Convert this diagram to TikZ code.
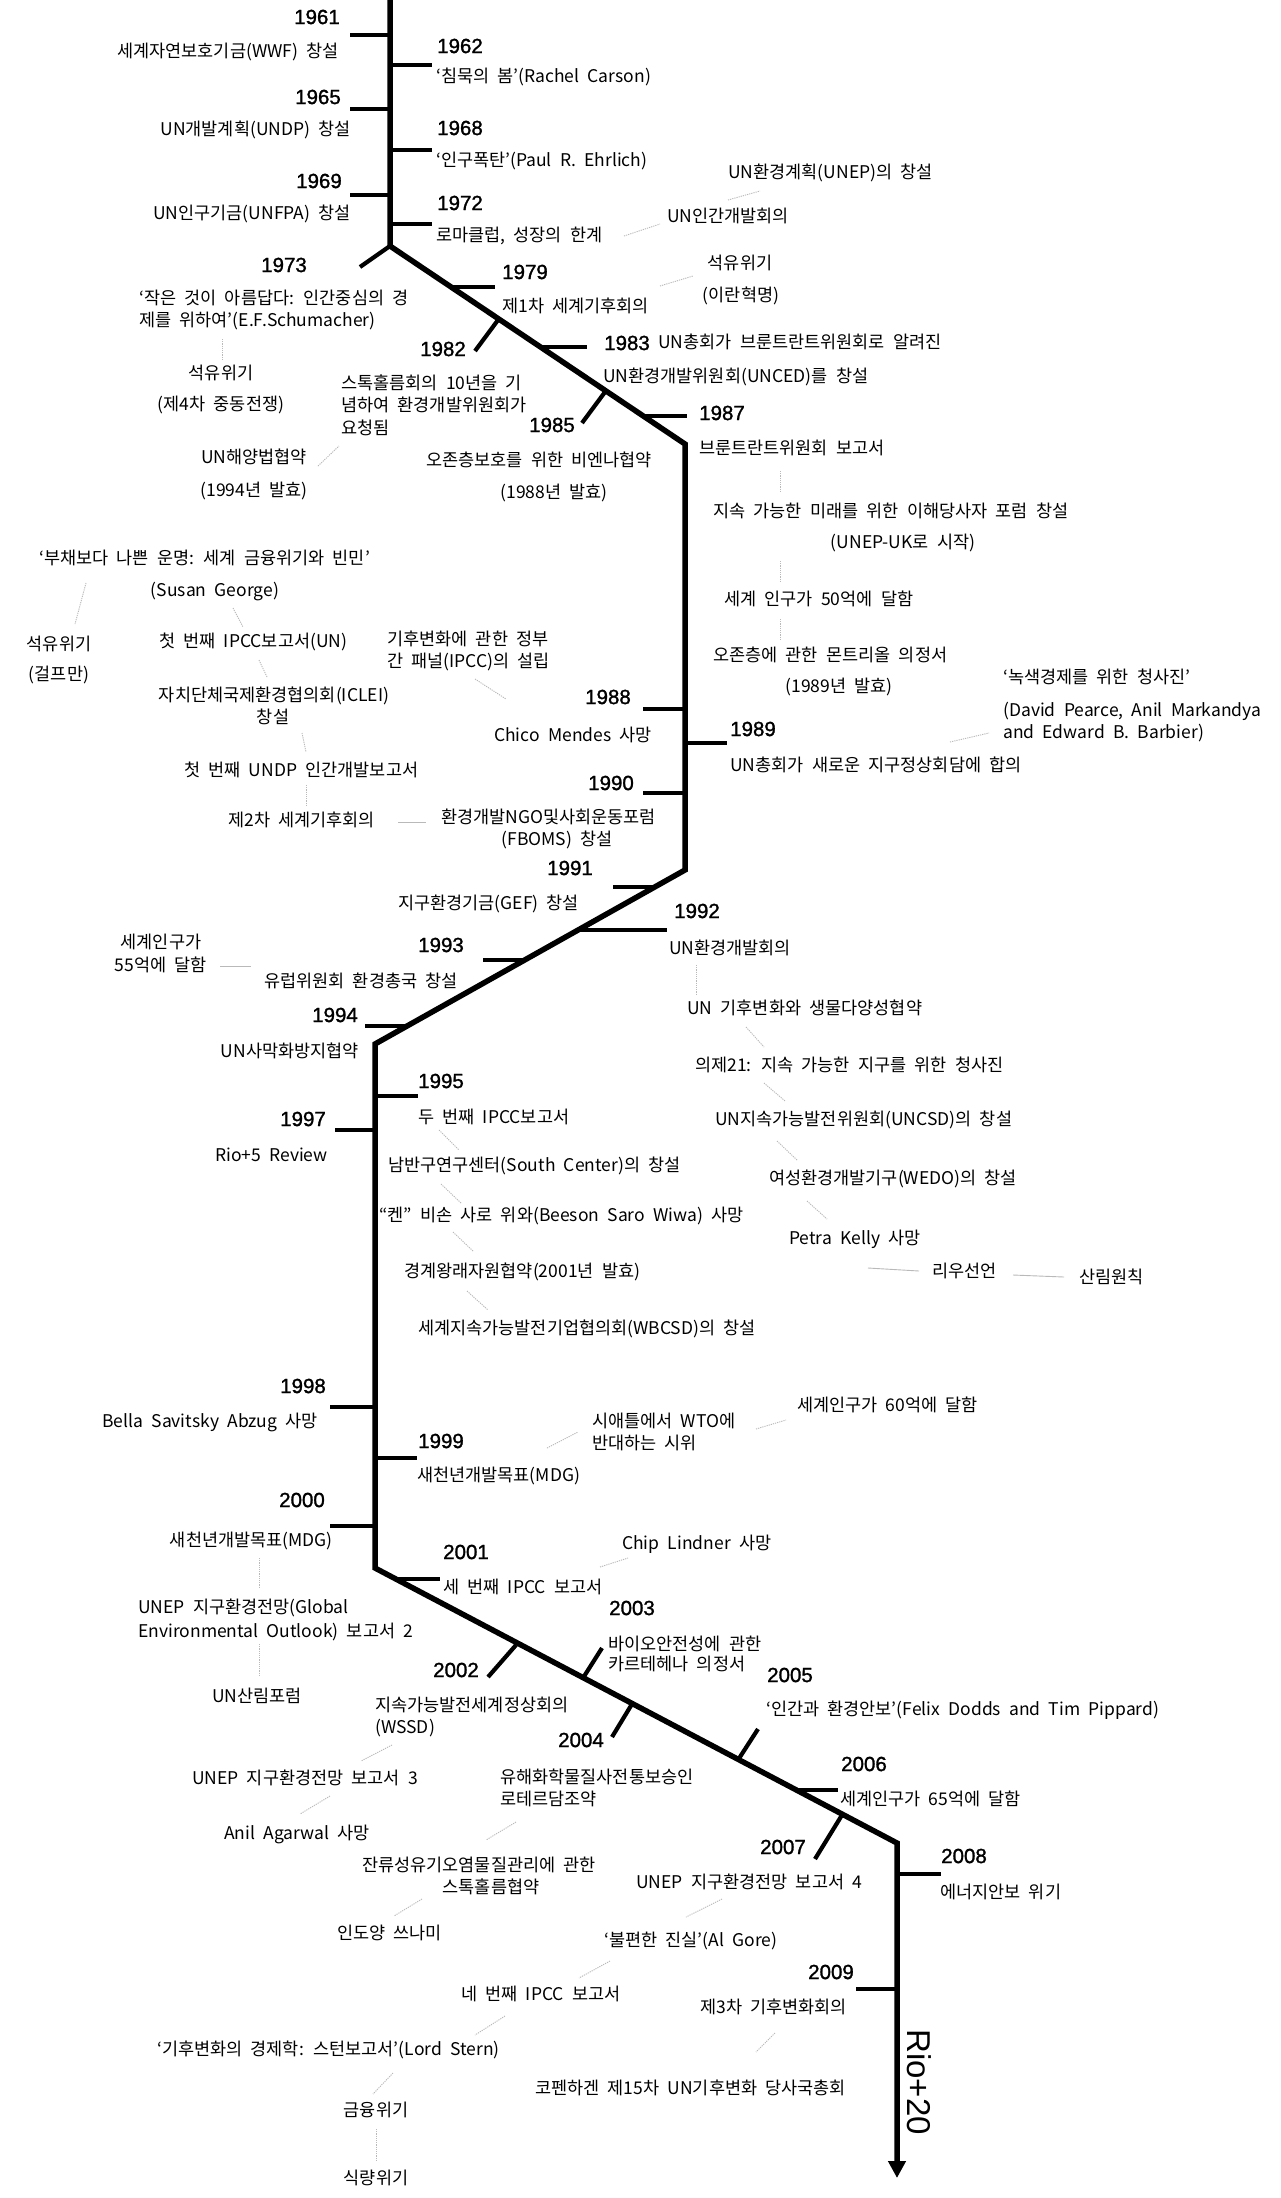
\documentclass[tikz,border=0pt]{standalone}
\usepackage{fontspec}
\setmainfont{Noto Sans CJK KR}[WordSpace=2.1]
\newfontfamily\yrfont{Liberation Sans}[FakeBold=1.3]
\newfontfamily\riofont{Liberation Sans}
\usetikzlibrary{arrows.meta}
\begin{document}
\begin{tikzpicture}[x=1pt,y=-1pt,
  tl/.style={line width=5.5pt, line join=miter},
  tk/.style={line width=4.2pt},
  yr/.style={font=\yrfont\fontsize{20.5}{22}\selectfont, inner sep=0pt},
  ev/.style={font=\fontsize{17.5}{22.5}\selectfont, inner sep=0pt},
  cn/.style={draw=gray!55, line width=0.9pt},
  dcn/.style={cn, dash pattern=on 1.2pt off 1pt}]
\useasboundingbox[fill=white] (0,0) rectangle (1280,2198);
% main timeline
\coordinate (p0) at (390,0);
\coordinate (p1) at (390,246);
\coordinate (p2) at (685,444);
\coordinate (p3) at (685,870);
\coordinate (p4) at (375,1044);
\coordinate (p5) at (375,1568);
\coordinate (p6) at (897,1843);
\coordinate (p7) at (897,2178);
\draw[tl,-{Triangle[width=17pt,length=17pt]}] (p0) -- (p1) -- (p2) -- (p3) -- (p4) -- (p5) -- (p6) -- (p7);
% ticks
\draw[tk] (350,35) -- (390,35);
\draw[tk] (390,65) -- (432,65);
\draw[tk] (350,109) -- (390,109);
\draw[tk] (390,150) -- (432,150);
\draw[tk] (350,195) -- (390,195);
\draw[tk] (390,224) -- (432,224);
\draw[tk] (390,246) -- (360,267);
\draw[tk] (452,287) -- (495,287);
\draw[tk] (498,320) -- (475,351);
\draw[tk] (541,347) -- (587,347);
\draw[tk] (605,392) -- (582,423);
\draw[tk] (641,416) -- (687,416);
\draw[tk] (643,709) -- (685,709);
\draw[tk] (685,743) -- (727,743);
\draw[tk] (643,793) -- (685,793);
\draw[tk] (613,887) -- (655,887);
\draw[tk] (580,930) -- (667,930);
\draw[tk] (483,960) -- (525,960);
\draw[tk] (365,1026) -- (407,1026);
\draw[tk] (375,1096) -- (418,1096);
\draw[tk] (335,1130) -- (375,1130);
\draw[tk] (330,1407) -- (375,1407);
\draw[tk] (375,1458) -- (417,1458);
\draw[tk] (330,1526) -- (375,1526);
\draw[tk] (394,1579) -- (440,1579);
\draw[tk] (516,1645) -- (488,1677);
\draw[tk] (583,1678) -- (602,1648);
\draw[tk] (632,1704) -- (612,1737);
\draw[tk] (738,1760) -- (758,1729);
\draw[tk] (796,1790) -- (838,1790);
\draw[tk] (842,1815) -- (815,1859);
\draw[tk] (897,1874) -- (941,1874);
\draw[tk] (856,1989) -- (897,1989);
% years
\node[yr,anchor=east] (y61) at (340,17) {1961};
\node[yr,anchor=west] (y62) at (437,46) {1962};
\node[yr,anchor=east] (y65) at (341,97) {1965};
\node[yr,anchor=west] (y68) at (437,128) {1968};
\node[yr,anchor=east] (y69) at (342,181) {1969};
\node[yr,anchor=west] (y72) at (437,203) {1972};
\node[yr] (y73) at (284,265) {1973};
\node[yr,anchor=west] (y79) at (502,272) {1979};
\node[yr] (y82) at (443,349) {1982};
\node[yr,anchor=west] (y83) at (604,343) {1983};
\node[yr] (y85) at (552,425) {1985};
\node[yr,anchor=west] (y87) at (699,413) {1987};
\node[yr] (y88) at (608,697) {1988};
\node[yr,anchor=west] (y89) at (730,729) {1989};
\node[yr] (y90) at (611,783) {1990};
\node[yr] (y91) at (570,868) {1991};
\node[yr] (y92) at (697,911) {1992};
\node[yr] (y93) at (441,945) {1993};
\node[yr] (y94) at (335,1015) {1994};
\node[yr] (y95) at (441,1081) {1995};
\node[yr] (y97) at (303,1119) {1997};
\node[yr] (y98) at (303,1386) {1998};
\node[yr] (y99) at (441,1441) {1999};
\node[yr] (y00) at (302,1500) {2000};
\node[yr] (y01) at (466,1552) {2001};
\node[yr] (y02) at (456,1670) {2002};
\node[yr] (y03) at (632,1608) {2003};
\node[yr] (y04) at (581,1740) {2004};
\node[yr] (y05) at (790,1675) {2005};
\node[yr] (y06) at (864,1764) {2006};
\node[yr] (y07) at (783,1847) {2007};
\node[yr] (y08) at (964,1856) {2008};
\node[yr] (y09) at (831,1972) {2009};
\node[font=\riofont\fontsize{33}{33}\selectfont, rotate=-90, inner sep=0pt] (rio) at (919,2082) {Rio+20};
% events 1961-1972
\node[ev,anchor=east] (e61) at (339,52) {세계자연보호기금(WWF) 창설};
\node[ev,anchor=west] (e62) at (436,77) {‘침묵의 봄’(Rachel Carson)};
\node[ev,anchor=east] (e65) at (351,130) {UN개발계획(UNDP) 창설};
\node[ev,anchor=west] (e68) at (436,161) {‘인구폭탄’(Paul R. Ehrlich)};
\node[ev,anchor=east] (e69) at (351,214) {UN인구기금(UNFPA) 창설};
\node[ev,anchor=west] (e72) at (436,236) {로마클럽, 성장의 한계};
\node[ev,anchor=west] (e72b) at (667,216) {UN인간개발회의};
\node[ev,anchor=west] (e72c) at (728,173) {UN환경계획(UNEP)의 창설};
\draw[dcn] (624,236) -- (660,224);
\draw[dcn] (728,200) -- (760,191);
% 1973
\node[ev,anchor=west,align=left] (e73) at (139,310) {‘작은 것이 아름답다: 인간중심의 경\\제를 위하여’(E.F.Schumacher)};
\draw[dcn] (222,339) -- (222,359);
\node[ev] (e73b) at (221,373) {석유위기};
\node[ev] (e73c) at (221,405) {(제4차 중동전쟁)};
% 1979
\node[ev,anchor=west] (e79) at (502,306) {제1차 세계기후회의};
\draw[dcn] (660,286) -- (693,276);
\node[ev] (e79b) at (740,263) {석유위기};
\node[ev] (e79c) at (741,296) {(이란혁명)};
% 1982-1985
\node[ev,anchor=west,align=left] (e82) at (341,405) {스톡홀름회의 10년을 기\\념하여 환경개발위원회가\\요청됨};
\node[ev,anchor=west] (e83) at (658,342) {UN총회가 브룬트란트위원회로 알려진};
\node[ev,anchor=west] (e83b) at (603,377) {UN환경개발위원회(UNCED)를 창설};
\node[ev,anchor=west] (e85) at (426,460) {오존층보호를 위한 비엔나협약};
\node[ev] (e85b) at (554,493) {(1988년 발효)};
\node[ev] (e82b) at (254,457) {UN해양법협약};
\node[ev] (e82c) at (254,491) {(1994년 발효)};
\draw[dcn] (318,466) -- (339,446);
% 1987
\node[ev,anchor=west] (e87) at (699,448) {브룬트란트위원회 보고서};
\draw[dcn] (780,471) -- (780,491);
\node[ev,anchor=west] (e87b) at (713,511) {지속 가능한 미래를 위한 이해당사자 포럼 창설};
\node[ev] (e87c) at (903,543) {(UNEP-UK로 시작)};
\draw[dcn] (780,561) -- (780,583);
\node[ev,anchor=west] (e87d) at (724,599) {세계 인구가 50억에 달함};
\draw[dcn] (780,619) -- (780,640);
\node[ev,anchor=west] (e87e) at (713,655) {오존층에 관한 몬트리올 의정서};
\node[ev] (e87f) at (839,687) {(1989년 발효)};
% 1988-1990
\node[ev,anchor=west] (e89g) at (1003,677) {‘녹색경제를 위한 청사진’};
\node[ev,anchor=west] (e89h) at (1003,711) {(David Pearce, Anil Markandya};
\node[ev,anchor=west] (e89i) at (1003,733) {and Edward B. Barbier)};
\draw[dcn] (950,742) -- (989,733);
\node[ev,anchor=west] (e89) at (730,765) {UN총회가 새로운 지구정상회담에 합의};
\node[ev,anchor=west] (e88) at (494,735) {Chico Mendes 사망};
\node[ev,anchor=west,align=left] (e88b) at (387,651) {기후변화에 관한 정부\\간 패널(IPCC)의 설립};
\draw[dcn] (475,679) -- (506,699);
\node[ev,anchor=west] (s1) at (39,558) {‘부채보다 나쁜 운명: 세계 금융위기와 빈민’};
\node[ev] (s2) at (215,592) {(Susan George)};
\draw[dcn] (86,583) -- (75,624);
\node[ev] (s3) at (59,644) {석유위기};
\node[ev] (s4) at (59,675) {(걸프만)};
\draw[dcn] (233,608) -- (243,627);
\node[ev,anchor=west] (s5) at (159,642) {첫 번째 IPCC보고서(UN)};
\draw[dcn] (259,660) -- (267,677);
\node[ev] (s6) at (274,696) {자치단체국제환경협의회(ICLEI)};
\node[ev] (s7) at (273,717) {창설};
\draw[dcn] (302,733) -- (306,752);
\node[ev,anchor=west] (s8) at (184,770) {첫 번째 UNDP 인간개발보고서};
\draw[dcn] (306,785) -- (306,806);
\node[ev,anchor=west] (s9) at (228,820) {제2차 세계기후회의};
\draw[cn] (398,822) -- (426,822);
\node[ev,anchor=west] (e90) at (441,817) {환경개발NGO및사회운동포럼};
\node[ev] (e90b) at (557,840) {(FBOMS) 창설};
% 1991-1994
\node[ev,anchor=west] (e91) at (398,904) {지구환경기금(GEF) 창설};
\node[ev,anchor=west] (e92) at (669,948) {UN환경개발회의};
\draw[dcn] (696,965) -- (696,995);
\node[ev,anchor=west] (e92b) at (687,1008) {UN 기후변화와 생물다양성협약};
\draw[dcn] (746,1027) -- (764,1047);
\node[ev,anchor=west] (e92c) at (695,1065) {의제21: 지속 가능한 지구를 위한 청사진};
\draw[dcn] (764,1083) -- (785,1101);
\node[ev,anchor=west] (e92d) at (715,1120) {UN지속가능발전위원회(UNCSD)의 창설};
\draw[dcn] (777,1141) -- (797,1160);
\node[ev,anchor=west] (e92e) at (769,1179) {여성환경개발기구(WEDO)의 창설};
\draw[dcn] (807,1201) -- (827,1219);
\node[ev,anchor=west] (e92f) at (789,1239) {Petra Kelly 사망};
\draw[cn] (868,1268) -- (919,1271);
\node[ev,anchor=west] (e92g) at (932,1271) {리우선언};
\draw[cn] (1013,1275) -- (1064,1277);
\node[ev,anchor=west] (e92h) at (1079,1277) {산림원칙};
\node[ev] (e93a) at (161,942) {세계인구가};
\node[ev] (e93b) at (161,965) {55억에 달함};
\draw[cn] (220,966) -- (251,966);
\node[ev,anchor=west] (e93) at (264,981) {유럽위원회 환경총국 창설};
\node[ev,anchor=east] (e94) at (359,1051) {UN사막화방지협약};
% 1995-1997
\node[ev,anchor=west] (e95) at (418,1117) {두 번째 IPCC보고서};
\draw[dcn] (439,1130) -- (459,1150);
\node[ev,anchor=west] (e95b) at (388,1166) {남반구연구센터(South Center)의 창설};
\draw[dcn] (441,1184) -- (461,1203);
\node[ev,anchor=west] (e95c) at (379,1216) {“켄” 비손 사로 위와(Beeson Saro Wiwa) 사망};
\draw[dcn] (453,1232) -- (473,1251);
\node[ev,anchor=west] (e95d) at (404,1272) {경계왕래자원협약(2001년 발효)};
\draw[dcn] (467,1291) -- (488,1310);
\node[ev,anchor=west] (e95e) at (418,1329) {세계지속가능발전기업협의회(WBCSD)의 창설};
\node[ev,anchor=east] (e97) at (328,1155) {Rio+5 Review};
% 1998-2001
\node[ev,anchor=east] (e98) at (318,1422) {Bella Savitsky Abzug 사망};
\node[ev,anchor=west] (e99) at (417,1476) {새천년개발목표(MDG)};
\node[ev,anchor=west,align=left] (e99b) at (592,1432) {시애틀에서 WTO에\\반대하는 시위};
\draw[dcn] (547,1448) -- (578,1432);
\draw[dcn] (756,1429) -- (786,1420);
\node[ev,anchor=west] (e99c) at (797,1405) {세계인구가 60억에 달함};
\node[ev,anchor=east] (e00) at (333,1541) {새천년개발목표(MDG)};
\draw[dcn] (259,1558) -- (259,1587);
\node[ev,anchor=west] (e00b) at (138,1608) {UNEP 지구환경전망(Global};
\node[ev,anchor=west] (e00c) at (138,1632) {Environmental Outlook) 보고서 2};
\draw[dcn] (259,1644) -- (259,1675);
\node[ev] (e00d) at (257,1696) {UN산림포럼};
\node[ev,anchor=west] (e01) at (443,1587) {세 번째 IPCC 보고서};
\draw[dcn] (600,1567) -- (628,1558);
\node[ev,anchor=west] (e01b) at (622,1544) {Chip Lindner 사망};
% 2002-2004
\node[ev,anchor=west] (e03) at (608,1644) {바이오안전성에 관한};
\node[ev,anchor=west] (e03b) at (608,1664) {카르테헤나 의정서};
\node[ev,anchor=west] (e02) at (375,1705) {지속가능발전세계정상회의};
\node[ev,anchor=west] (e02b) at (375,1728) {(WSSD)};
\draw[dcn] (392,1745) -- (361,1761);
\node[ev] (e02c) at (305,1778) {UNEP 지구환경전망 보고서 3};
\draw[dcn] (330,1796) -- (300,1814);
\node[ev,anchor=west] (e02d) at (224,1834) {Anil Agarwal 사망};
\node[ev,anchor=west] (e04) at (500,1777) {유해화학물질사전통보승인};
\node[ev,anchor=west] (e04b) at (500,1799) {로테르담조약};
\draw[dcn] (516,1822) -- (486,1840);
\node[ev,anchor=west] (e04c) at (362,1865) {잔류성유기오염물질관리에 관한};
\node[ev] (e04d) at (491,1887) {스톡홀름협약};
\draw[dcn] (422,1899) -- (394,1916);
\node[ev,anchor=west] (e04e) at (337,1933) {인도양 쓰나미};
% 2005-2009
\node[ev,anchor=west] (e05) at (766,1710) {‘인간과 환경안보’(Felix Dodds and Tim Pippard)};
\node[ev,anchor=west] (e06) at (840,1799) {세계인구가 65억에 달함};
\node[ev,anchor=west] (e07) at (636,1882) {UNEP 지구환경전망 보고서 4};
\draw[dcn] (722,1899) -- (686,1917);
\node[ev,anchor=west] (e07b) at (604,1941) {‘불편한 진실’(Al Gore)};
\draw[dcn] (610,1961) -- (579,1978);
\node[ev,anchor=west] (e07c) at (461,1994) {네 번째 IPCC 보고서};
\draw[dcn] (505,2016) -- (475,2035);
\node[ev,anchor=west] (e07d) at (157,2050) {‘기후변화의 경제학: 스턴보고서’(Lord Stern)};
\draw[dcn] (393,2073) -- (373,2094);
\node[ev] (e07e) at (376,2110) {금융위기};
\draw[dcn] (376,2129) -- (376,2160);
\node[ev] (e07f) at (376,2178) {식량위기};
\node[ev,anchor=west] (e08) at (940,1892) {에너지안보 위기};
\node[ev,anchor=west] (e09) at (700,2007) {제3차 기후변화회의};
\draw[dcn] (775,2033) -- (756,2052);
\node[ev,anchor=west] (e09b) at (535,2088) {코펜하겐 제15차 UN기후변화 당사국총회};
\end{tikzpicture}
\end{document}
